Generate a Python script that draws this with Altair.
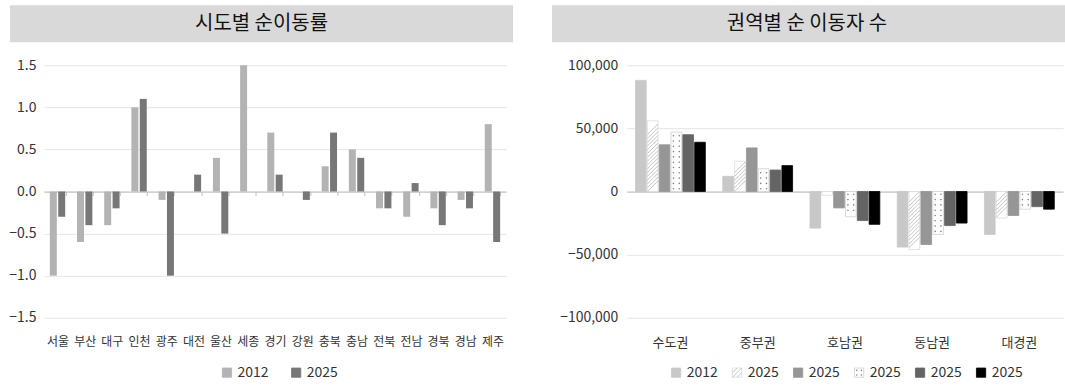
import altair as alt
import pandas as pd

FONT = "Noto Sans CJK KR"

# ---------------- data ----------------
left_title = "시도별 순이동률"
regions = ["서울", "부산", "대구", "인천", "광주", "대전", "울산", "세종", "경기",
           "강원", "충북", "충남", "전북", "전남", "경북", "경남", "제주"]
years = ["2012", "2025"]
rate_2012 = [-1.0, -0.6, -0.4, 1.0, -0.1, 0.0, 0.4, 1.5, 0.7, 0.0, 0.3, 0.5, -0.2, -0.3, -0.2, -0.1, 0.8]
rate_2025 = [-0.3, -0.4, -0.2, 1.1, -1.0, 0.2, -0.5, 0.0, 0.2, -0.1, 0.7, 0.4, -0.2, 0.1, -0.4, -0.2, -0.6]
left_ticks = [-1.5, -1.0, -0.5, 0.0, 0.5, 1.0, 1.5]

right_title = "권역별 순 이동자 수"
blocs = ["수도권", "중부권", "호남권", "동남권", "대경권"]
series_labels = ["2012", "2025", "2025", "2025", "2025", "2025"]
net_s1 = [88000, 12000, -29000, -44000, -34000]
net_s2 = [56000, 24000, -3000, -46000, -21000]
net_s3 = [37000, 34500, -13000, -42000, -19000]
net_s4 = [47000, 18000, -20000, -34000, -14000]
net_s5 = [45000, 17000, -23000, -27000, -12000]
net_s6 = [39000, 20500, -26000, -25000, -14000]
right_ticks = [-100000, -50000, 0, 50000, 100000]

# ---------------- styles ----------------
LW, RW, H = 463, 437, 253
TXT = "#333333"
GRID = "#e6e6e6"
ZERO = "#bfbfbf"
left_fills = ["#b3b3b3", "#777777"]
right_fills = ["#c8c8c8", "#ffffff", "#969696", "#ffffff", "#646464", "#000000"]
right_strokes = ["#c8c8c8", "#dcdcdc", "#969696", "#d0d0d0", "#646464", "#000000"]
right_kinds = ["solid", "hatch", "solid", "dots", "solid", "solid"]
HATCH_COLOR = "#c4c4c4"
DOT_COLOR = "#808080"

L_BAR_W, L_STEP = 7.0, 8.4
R_BAR_W, R_STEP = 10.7, 11.85
LEG_Y = 308.0


def circ(cx, cy, r):
    return (f"M{cx - r},{cy}a{r},{r} 0 1,0 {2 * r},0"
            f"a{r},{r} 0 1,0 {-2 * r},0Z")


HATCH_SEG = "M-1,1L1,-1"
HATCH_ICON = "M-1,0L0,-1M-1,1L1,-1M0,1L1,0"
DOTS_ICON = circ(-0.5, -0.5, 0.17) + circ(0.5, -0.5, 0.17) + circ(-0.5, 0.5, 0.17) + circ(0.5, 0.5, 0.17)


def pattern_rows(values, start, step, margin):
    out = []
    for b, v in zip(blocs, values):
        s = 1 if v >= 0 else -1
        y = start
        while y <= abs(v) - margin:
            out.append({"bloc": b, "value": s * y})
            y += step
    return pd.DataFrame(out, columns=["bloc", "value"])


def header(title, x0, x1, cx):
    d = pd.DataFrame({"t": [title]})
    rect = alt.Chart(d).mark_rect(color="#d9d9d9").encode(
        x=alt.value(x0), x2=alt.value(x1), y=alt.value(-60), y2=alt.value(-23))
    txt = alt.Chart(d).mark_text(fontSize=20, font=FONT, color="#111111",
                                 align="center", baseline="middle").encode(
        x=alt.value(cx), y=alt.value(-41.5), text="t:N")
    return [rect, txt]


def legend(labels, fills, strokes, kinds, x0, step, yc):
    out = []
    for i, (lab, f, s, kind) in enumerate(zip(labels, fills, strokes, kinds)):
        cx = x0 + i * step
        d = pd.DataFrame({"label": [lab]})
        out.append(alt.Chart(d).mark_point(shape="square", filled=True, fill=f, stroke=s,
                                           strokeWidth=0.8, size=86, opacity=1).encode(
            x=alt.value(cx), y=alt.value(yc)))
        if kind == "hatch":
            out.append(alt.Chart(d).mark_point(shape=HATCH_ICON, filled=False, color=HATCH_COLOR,
                                               strokeWidth=1, size=86, opacity=1).encode(
                x=alt.value(cx), y=alt.value(yc)))
        elif kind == "dots":
            out.append(alt.Chart(d).mark_point(shape=DOTS_ICON, filled=True, color=DOT_COLOR,
                                               size=86, opacity=1).encode(
                x=alt.value(cx), y=alt.value(yc)))
        out.append(alt.Chart(d).mark_text(align="left", baseline="middle", fontSize=14,
                                          font=FONT, color=TXT).encode(
            x=alt.value(cx + 10.6), y=alt.value(yc), text="label:N"))
    return out


# ---------------- left panel ----------------
lx = alt.X("region:N", sort=regions,
           scale=alt.Scale(domain=regions, paddingInner=0.42, paddingOuter=0.21),
           axis=alt.Axis(title=None, labelAngle=0, labelFontSize=12, labelColor=TXT,
                         offset=-H / 2, domainColor=ZERO, tickColor=ZERO, tickSize=4,
                         tickBand="extent", labelPadding=141, grid=False))
ly = alt.Y("value:Q", scale=alt.Scale(domain=[-1.5, 1.5], nice=False, zero=False),
           axis=alt.Axis(title=None, values=left_ticks, format=".1f", labelFontSize=14,
                         labelColor=TXT, gridColor=GRID, domain=False, ticks=False,
                         labelPadding=8))

left_layers = []
for i, (vals, fill) in enumerate(zip([rate_2012, rate_2025], left_fills)):
    d = pd.DataFrame({"region": regions, "value": vals})
    off = (i - 0.5) * L_STEP
    left_layers.append(alt.Chart(d).mark_bar(color=fill, width=L_BAR_W, xOffset=off).encode(
        x=lx, y=ly))

left = alt.layer(
    *left_layers,
    *header(left_title, -34, 470, 218),
    *legend(years, left_fills, left_fills, ["solid", "solid"], 183.4, 69.3, LEG_Y),
).properties(width=LW, height=H)

# ---------------- right panel ----------------
rx = alt.X("bloc:N", sort=blocs,
           scale=alt.Scale(domain=blocs, paddingInner=0.2, paddingOuter=0.1),
           axis=alt.Axis(title=None, labelAngle=0, labelFontSize=13, labelColor=TXT,
                         offset=-H / 2, domainColor=ZERO, ticks=False,
                         labelPadding=145, grid=False))
ry = alt.Y("value:Q", scale=alt.Scale(domain=[-100000, 100000], nice=False),
           axis=alt.Axis(title=None, values=right_ticks, format=",.0f", labelFontSize=14,
                         labelColor=TXT, gridColor=GRID, domain=False, ticks=False,
                         labelPadding=9))

right_series = [net_s1, net_s2, net_s3, net_s4, net_s5, net_s6]
right_layers = []
pattern_layers = []
for i, (vals, f, s, kind) in enumerate(zip(right_series, right_fills, right_strokes, right_kinds)):
    d = pd.DataFrame({"bloc": blocs, "value": vals})
    off = (i - 2.5) * R_STEP
    right_layers.append(alt.Chart(d).mark_bar(fill=f, stroke=s, strokeWidth=0.8,
                                              width=R_BAR_W, xOffset=off).encode(x=rx, y=ry))
    if kind == "hatch":
        hd = pattern_rows(vals, 4200, 3000, 4200)
        pattern_layers.append(alt.Chart(hd).mark_point(
            shape=HATCH_SEG, filled=False, color=HATCH_COLOR, strokeWidth=1,
            size=R_BAR_W ** 2, opacity=1, xOffset=off).encode(x=rx, y=ry))
    elif kind == "dots":
        dd = pattern_rows(vals, 2200, 4200, 1200)
        for dx in (-2.9, 2.9):
            pattern_layers.append(alt.Chart(dd).mark_point(
                shape="circle", filled=True, color=DOT_COLOR, size=2.6, opacity=1,
                xOffset=off + dx).encode(x=rx, y=ry))

right = alt.layer(
    *right_layers, *pattern_layers,
    *header(right_title, -75, 439, 180.5),
    *legend(series_labels, right_fills, right_strokes, right_kinds, 49.4, 61.1, LEG_Y),
).properties(width=RW, height=H)

chart = alt.hconcat(left, right, spacing=39).properties(
    padding={"left": 8, "top": 5, "right": 0, "bottom": 0}
).configure(font=FONT).configure_view(stroke=None)

chart.save("out.html", embed_options={"renderer": "svg", "actions": False})
